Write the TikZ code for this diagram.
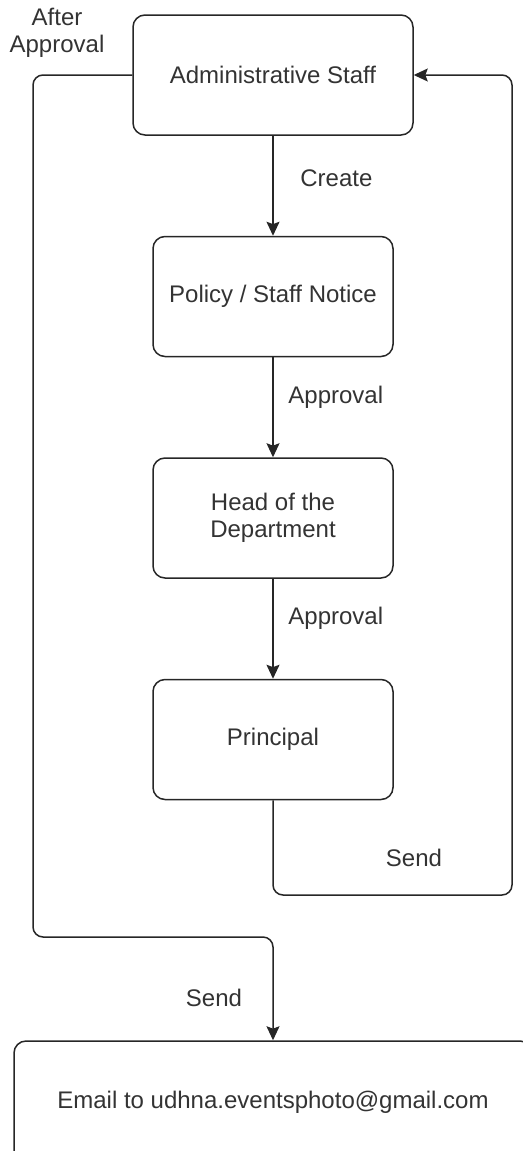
\documentclass[tikz,border=0pt]{standalone}
\usepackage{fontspec}
\setmainfont{Liberation Sans}
\usetikzlibrary{positioning, arrows.meta}

\begin{document}
\begin{tikzpicture}[
	>=Stealth,
	font=\fontsize{12}{13.5}\selectfont,
	% Define styles
	stepbox/.style={rectangle, draw=black!85, line width=0.75pt, rounded corners=6pt, minimum width=120pt, minimum height=60pt, align=center, text=black!80},
	arrow/.style={-{Stealth[length=7pt, width=6.5pt, inset=1.2pt]}, line width=0.75pt, black!85, rounded corners=5pt},
	lbl/.style={text=black!80, align=center}
	]
	
	% Page frame
	\useasboundingbox (0pt,0pt) rectangle (261.5pt,-575.5pt);
	
	% 1. Workflow boxes
	\node[stepbox, minimum width=140pt] (admin) at (136.5pt,-37.5pt) {Administrative Staff};
	\node[stepbox, below=50pt of admin] (notice) {Policy / Staff Notice};
	\node[stepbox, below=50pt of notice] (hod) {Head of the\\Department};
	\node[stepbox, below=50pt of hod] (principal) {Principal};
	\node[stepbox, minimum width=259pt, minimum height=61pt, below=120pt of principal] (email) {Email to udhna.eventsphoto@gmail.com};
	
	% Bend points of the two loops
	\coordinate (backturn) at (256pt,-447.5pt);
	\coordinate (sideturn) at (16.5pt,-468.5pt);
	
	% 2. Approval chain
	\draw[arrow] (admin) -- (notice) node[lbl, pos=0.42, right=10pt] {Create};
	\draw[arrow] (notice) -- (hod) node[lbl, pos=0.4, right=4pt] {Approval};
	\draw[arrow] (hod) -- (principal) node[lbl, pos=0.4, right=4pt] {Approval};
	
	% 3. Back to the staff, then out by mail
	\draw[arrow] (principal.south) |- (backturn) |- (admin.east);
	\node[lbl] (sendback) at (207pt,-429pt) {Send};
	\draw[arrow] (admin.west) -| (sideturn) -| (email.north);
	\node[lbl] (after) at (28.5pt,-16.5pt) {After\\Approval};
	\node[lbl] (sendmail) at (107pt,-499pt) {Send};
\end{tikzpicture}
\end{document}
